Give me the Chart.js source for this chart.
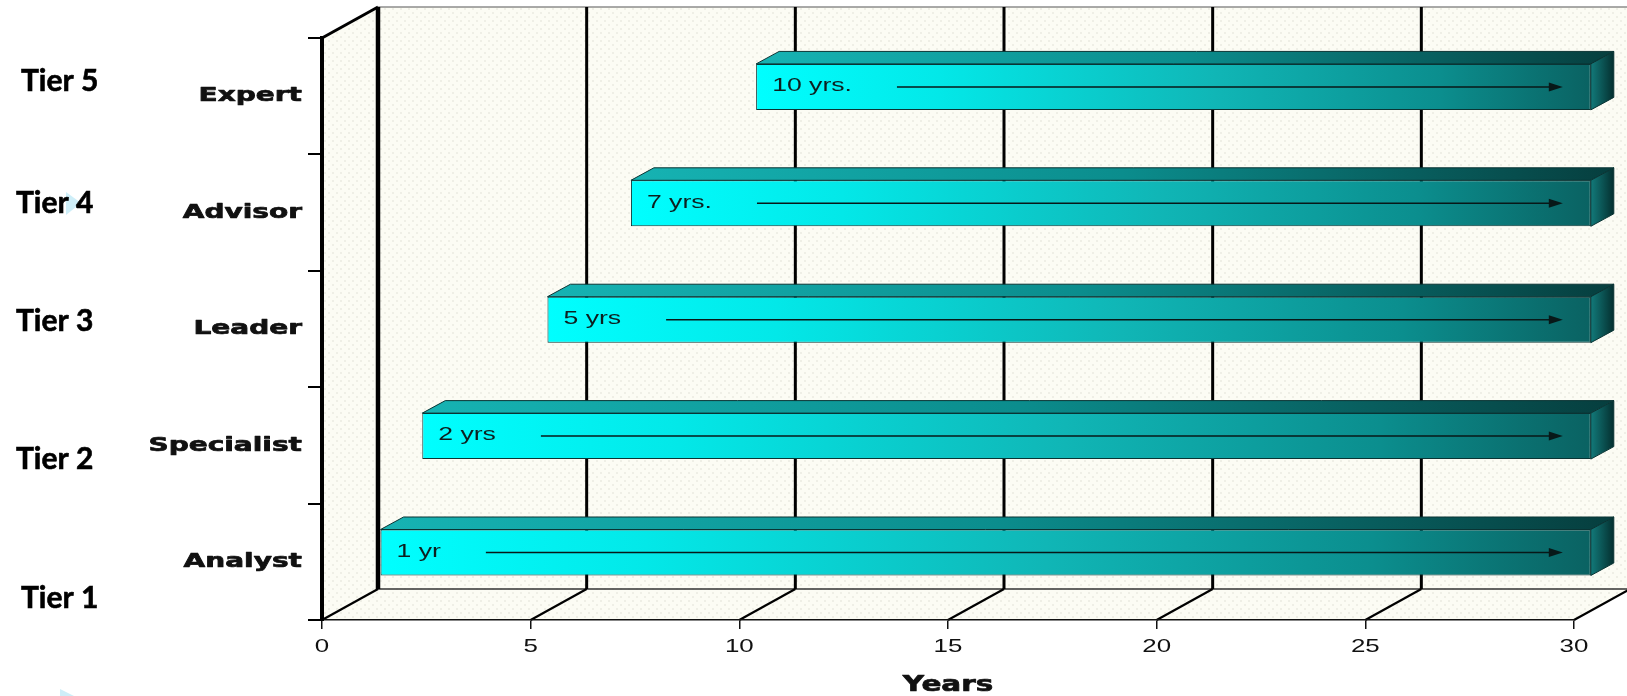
<!DOCTYPE html>
<html>
<head>
<meta charset="utf-8">
<title>Career tiers – years of experience</title>
<script src="https://cdn.jsdelivr.net/npm/chart.js@4.4.1/dist/chart.umd.min.js"></script>
<style>
  html, body { margin: 0; padding: 0; background: #ffffff; }
  #wrap { position: relative; width: 1627px; height: 696px; }
</style>
</head>
<body>
<div id="wrap"><canvas id="chart" width="1627" height="696"></canvas></div>
<script>
// ---- data ----
const roles = ['Expert', 'Advisor', 'Leader', 'Specialist', 'Analyst'];
const tiers = ['Tier 5', 'Tier 4', 'Tier 3', 'Tier 2', 'Tier 1'];
const startYears = [10, 7, 5, 2, 1];
const endYears = [30, 30, 30, 30, 30];
const barLabels = ['10 yrs.', '7 yrs.', '5 yrs', '2 yrs', '1 yr'];
const yearTicks = [0, 5, 10, 15, 20, 25, 30];

// ---- 3D geometry (pixels) ----
const WALL_DX = 56, WALL_DY = -31;           // depth of the box
const FACE_DX = 0.3 * WALL_DX, FACE_DY = 0.3 * WALL_DY; // bar front face sits 30% deep
const BAR_DX = 23, BAR_DY = -12.5;            // bar depth
const TEXT_STRETCH = 1.4;                     // wide lettering of the chart texts
const tierNudge = [-15, -9, -8, 14, 37];      // tier captions relative to row centres

const canvas = document.getElementById('chart');
const ctx = canvas.getContext('2d');

// Horizontally widened (and, for bold faces, slightly heavier) lettering
const plainFillText = ctx.fillText.bind(ctx);
const plainStrokeText = ctx.strokeText.bind(ctx);
ctx.fillText = function (text, x, y, maxWidth) {
  this.save();
  this.translate(x, y);
  this.scale(TEXT_STRETCH, 1);
  if (maxWidth === undefined || maxWidth === null) plainFillText(text, 0, 0);
  else plainFillText(text, 0, 0, maxWidth / TEXT_STRETCH);
  if (/bold/.test(this.font)) {
    this.strokeStyle = this.fillStyle;
    this.lineWidth = 0.7;
    this.lineJoin = 'round';
    plainStrokeText(text, 0, 0);
  }
  this.restore();
};

// light dotted fill for the walls and floor
function wallPattern(c) {
  const t = document.createElement('canvas');
  t.width = 8; t.height = 8;
  const g = t.getContext('2d');
  g.fillStyle = '#fcfcf4';
  g.fillRect(0, 0, 8, 8);
  g.fillStyle = '#efefe6';
  g.fillRect(0, 0, 2, 2);
  g.fillRect(4, 4, 2, 2);
  return c.createPattern(t, 'repeat');
}

function line(c, x1, y1, x2, y2, w, col) {
  c.beginPath();
  c.moveTo(x1, y1);
  c.lineTo(x2, y2);
  c.lineWidth = w;
  c.strokeStyle = col;
  c.stroke();
}

function poly(c, pts, fill, stroke) {
  c.beginPath();
  c.moveTo(pts[0][0], pts[0][1]);
  for (let i = 1; i < pts.length; i++) c.lineTo(pts[i][0], pts[i][1]);
  c.closePath();
  c.fillStyle = fill;
  c.fill();
  if (stroke) { c.lineWidth = 1; c.strokeStyle = stroke; c.stroke(); }
}

function faceGradient(c, x0, x1) {
  const g = c.createLinearGradient(x0, 0, x1, 0);
  g.addColorStop(0, '#00ffff');
  g.addColorStop(0.22, '#03e8e8');
  g.addColorStop(0.55, '#10b6b6');
  g.addColorStop(0.82, '#0b8e8e');
  g.addColorStop(1, '#0a6262');
  return g;
}

const box3d = {
  id: 'box3d',
  beforeDraw(chart) {
    const c = chart.ctx;
    const { left: L, right: R, top: T, bottom: B } = chart.chartArea;
    const xs = chart.scales.x;
    const pat = wallPattern(c);
    c.save();
    // back wall, left wall, floor
    poly(c, [[L + WALL_DX, T + WALL_DY], [R + WALL_DX, T + WALL_DY], [R + WALL_DX, B + WALL_DY], [L + WALL_DX, B + WALL_DY]], pat);
    poly(c, [[L, T], [L + WALL_DX, T + WALL_DY], [L + WALL_DX, B + WALL_DY], [L, B]], pat);
    poly(c, [[L, B], [R, B], [R + WALL_DX, B + WALL_DY], [L + WALL_DX, B + WALL_DY]], pat);
    // wall edges
    line(c, L + WALL_DX, T + WALL_DY, R + WALL_DX + 10, T + WALL_DY, 1.2, '#555');
    line(c, L + WALL_DX, B + WALL_DY, R + WALL_DX, B + WALL_DY, 1.4, '#333');
    line(c, L, T, L + WALL_DX, T + WALL_DY, 3, '#000');
    // gridlines on the back wall and across the floor
    yearTicks.forEach(v => {
      const x = xs.getPixelForValue(v);
      line(c, x + WALL_DX, T + WALL_DY, x + WALL_DX, B + WALL_DY, v === 0 ? 4.5 : 3, '#000');
      line(c, x, B, x + WALL_DX, B + WALL_DY, 2.2, '#000');
    });
    c.restore();
  },
  beforeDatasetsDraw(chart) {
    const c = chart.ctx;
    const meta = chart.getDatasetMeta(0);
    c.save();
    meta.data.forEach(el => {
      const { x, base, y, height } = el.getProps(['x', 'base', 'y', 'height'], true);
      const x0 = Math.min(x, base) + FACE_DX, x1 = Math.max(x, base) + FACE_DX;
      const yt = y - height / 2 + FACE_DY, yb = y + height / 2 + FACE_DY;
      // top face
      const gt = c.createLinearGradient(x0, 0, x1 + BAR_DX, 0);
      gt.addColorStop(0, '#16b3b3');
      gt.addColorStop(0.5, '#0b8d8d');
      gt.addColorStop(1, '#063e3e');
      poly(c, [[x0, yt], [x1, yt], [x1 + BAR_DX, yt + BAR_DY], [x0 + BAR_DX, yt + BAR_DY]], gt, '#0a3434');
      // right end face
      const gr = c.createLinearGradient(x1, 0, x1 + BAR_DX, 0);
      gr.addColorStop(0, '#127a7a');
      gr.addColorStop(1, '#042f2f');
      poly(c, [[x1, yt], [x1 + BAR_DX, yt + BAR_DY], [x1 + BAR_DX, yb + BAR_DY], [x1, yb]], gr, '#0a3434');
    });
    c.restore();
    // front faces are drawn by the bar controller, shifted into the box
    c.save();
    c.translate(FACE_DX, FACE_DY);
  },
  afterDatasetsDraw(chart) {
    const c = chart.ctx;
    c.restore();
    const meta = chart.getDatasetMeta(0);
    c.save();
    meta.data.forEach((el, i) => {
      const { x, base, y } = el.getProps(['x', 'base', 'y'], true);
      const x0 = Math.min(x, base) + FACE_DX, x1 = Math.max(x, base) + FACE_DX;
      const yc = y + FACE_DY;
      c.font = '19px "Liberation Sans", Arial, sans-serif';
      c.fillStyle = '#0d1f1f';
      c.textAlign = 'left';
      c.textBaseline = 'middle';
      const tx = x0 + 16;
      c.fillText(barLabels[i], tx, yc - 1);
      const tw = c.measureText(barLabels[i]).width * TEXT_STRETCH;
      // arrow across the bar
      const ax0 = tx + tw + 45, ax1 = x1 - 28, ay = yc;
      line(c, ax0, ay, ax1 - 10, ay, 1.5, '#081818');
      c.beginPath();
      c.moveTo(ax1, ay);
      c.lineTo(ax1 - 14, ay - 4.5);
      c.lineTo(ax1 - 14, ay + 4.5);
      c.closePath();
      c.fillStyle = '#081818';
      c.fill();
    });
    c.restore();
  },
  afterDraw(chart) {
    const c = chart.ctx;
    const ys = chart.scales.y;
    c.save();
    // pale pointer shapes of the slide
    c.fillStyle = 'rgba(190, 232, 245, 0.75)';
    c.beginPath(); c.moveTo(66, 192); c.lineTo(81, 203); c.lineTo(66, 215); c.closePath(); c.fill();
    c.beginPath(); c.moveTo(60, 689); c.lineTo(84, 701); c.lineTo(60, 713); c.closePath(); c.fill();
    // tier captions
    c.font = 'bold 30px Lato, "Open Sans", sans-serif';
    c.fillStyle = '#000';
    c.strokeStyle = '#000';
    c.lineWidth = 0.6;
    c.textAlign = 'left';
    c.textBaseline = 'middle';
    tiers.forEach((t, i) => {
      const yc = ys.getPixelForValue(i) + tierNudge[i];
      const tx = i === 0 || i === 4 ? 21 : 16;
      plainFillText(t, tx, yc);
      plainStrokeText(t, tx, yc);
    });
    c.restore();
  }
};

new Chart(ctx, {
  type: 'bar',
  data: {
    labels: roles,
    datasets: [{
      data: startYears.map((s, i) => [s, endYears[i]]),
      backgroundColor(cx) {
        const ch = cx.chart, xs = ch.scales.x;
        if (!xs || cx.type !== 'data' || !ch.chartArea) return '#08c8c8';
        const x0 = xs.getPixelForValue(startYears[cx.dataIndex]);
        const x1 = xs.getPixelForValue(endYears[cx.dataIndex]);
        if (!isFinite(x0) || !isFinite(x1) || x1 <= x0) return '#08c8c8';
        return faceGradient(ch.ctx, x0, x1);
      },
      borderColor: '#0a3434',
      borderWidth: 1,
      borderSkipped: false,
      barPercentage: 0.395,
      categoryPercentage: 1,
      clip: false
    }]
  },
  options: {
    indexAxis: 'y',
    responsive: false,
    animation: false,
    events: [],
    layout: { padding: { top: 38, right: 53, left: 0, bottom: 0 } },
    plugins: { legend: { display: false }, tooltip: { enabled: false } },
    scales: {
      x: {
        type: 'linear',
        min: 0,
        max: 30,
        afterBuildTicks(s) { s.ticks = yearTicks.map(v => ({ value: v })); },
        afterFit(s) { s.height = 76; },
        grid: { drawOnChartArea: false, tickLength: 9, color: '#111', lineWidth: 1.5 },
        border: { color: '#111', width: 1.5 },
        ticks: { font: { family: '"Liberation Sans", Arial, sans-serif', size: 18.5 }, color: '#111', padding: 7 },
        title: {
          display: true,
          text: 'Years',
          color: '#111',
          font: { family: '"DejaVu Sans", sans-serif', weight: 'bold', size: 21, lineHeight: 1 },
          padding: { top: 0, bottom: 0 }
        }
      },
      y: {
        type: 'category',
        afterFit(s) { s.width = 322; },
        grid: { drawOnChartArea: false, offset: true, tickLength: 14, color: '#000', lineWidth: 2 },
        border: { color: '#000', width: 4 },
        ticks: { font: { family: '"DejaVu Sans", sans-serif', weight: 'bold', size: 20 }, color: '#111', padding: 6 }
      }
    }
  },
  plugins: [box3d]
});
</script>
</body>
</html>
